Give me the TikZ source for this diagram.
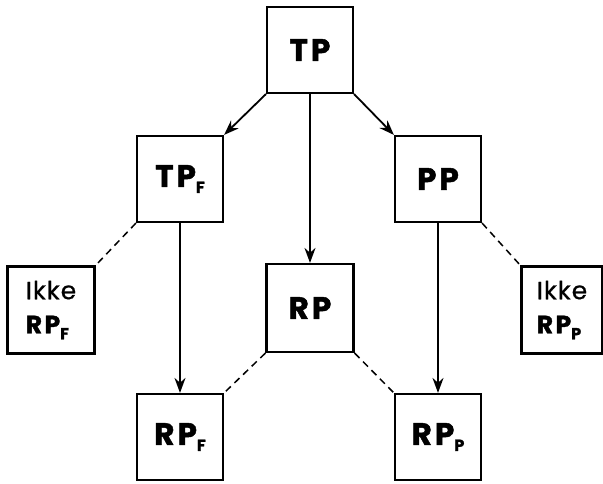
\documentclass[tikz,border=0pt]{standalone}
\usepackage{fontspec}
\setmainfont{Poppins}[BoldFont=* Bold]
\newfontfamily\heavy{Poppins Bold}[FakeBold=1.5,LetterSpace=10]
\newfontfamily\medi{Poppins}[FakeBold=0.6,LetterSpace=4]
\usetikzlibrary{arrows.meta}
\newcommand{\sbx}[1]{\raisebox{-6pt}{\fontsize{16}{16}\selectfont\heavy #1}}
\begin{document}
\begin{tikzpicture}[x=1pt,y=-1pt,
  box/.style={draw,line width=2.2pt,minimum width=86pt,minimum height=86pt,inner sep=0pt,font=\fontsize{31}{32}\selectfont\heavy},
  smallbox/.style={draw,line width=2.2pt,minimum width=87pt,minimum height=87pt,inner sep=0pt,align=left,font=\fontsize{25}{34}\selectfont\medi},
  arr/.style={line width=1.8pt,-{Stealth[length=15pt,width=11pt]}},
  dsh/.style={line width=1.5pt,dash pattern=on 7pt off 5pt}]
\useasboundingbox (0,0) rectangle (603,483);
\node[box] (tp) at (310,50) {TP};
\node[box] (tpf) at (180,179) {TP\sbx{F}};
\node[box] (pp) at (438,179) {PP};
\node[box,minimum width=87pt,minimum height=88pt] (rp) at (310,308) {RP};
\node[smallbox] (ikf) at (51,310) {Ikke\\{\heavy\fontsize{25}{34}\selectfont RP}\sbx{F}};
\node[smallbox,minimum width=81pt] (ikp) at (562,310) {Ikke\\{\heavy\fontsize{25}{34}\selectfont RP}\sbx{P}};
\node[box] (rpf) at (180,437) {RP\sbx{F}};
\node[box] (rpp) at (438,437) {RP\sbx{P}};
\draw[arr] (tp.south west) -- (tpf.north east);
\draw[arr] (tp.south) -- (rp.north);
\draw[arr] (tp.south east) -- (pp.north west);
\draw[arr] (tpf.south) -- (rpf.north);
\draw[arr] (pp.south) -- (rpp.north);
\draw[dsh] (tpf.south west) -- (ikf.north east);
\draw[dsh] (pp.south east) -- (ikp.north west);
\draw[dsh] (rp.south west) -- (rpf.north east);
\draw[dsh] (rp.south east) -- (rpp.north west);
\end{tikzpicture}
\end{document}
